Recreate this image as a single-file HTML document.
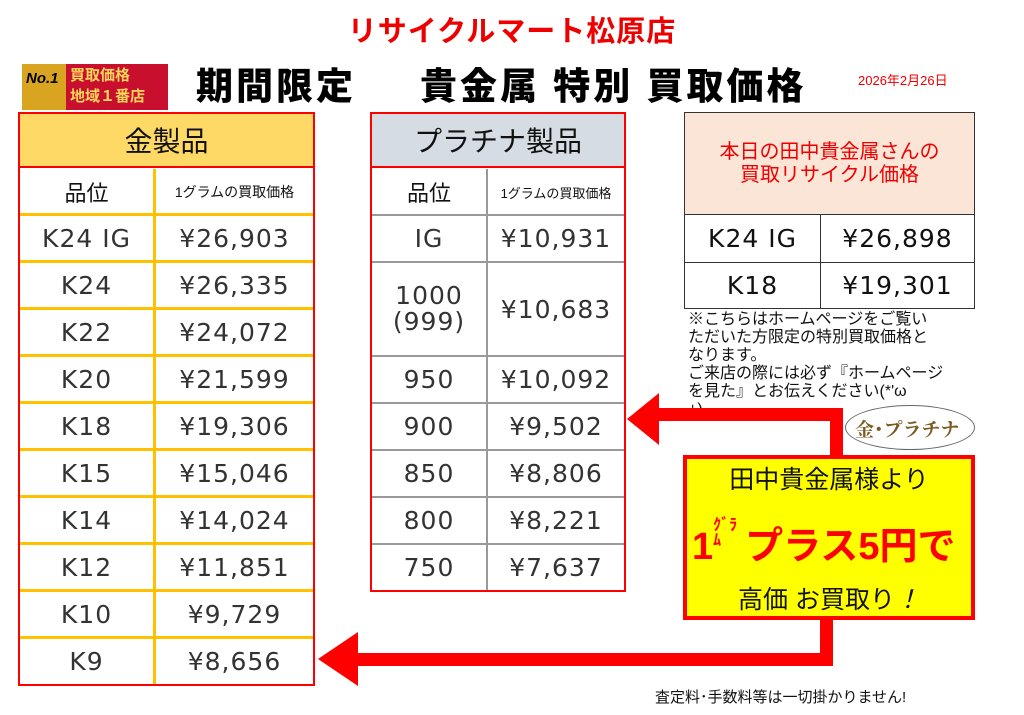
<!DOCTYPE html><html><head><meta charset="utf-8"><style>
body{margin:0;width:1024px;height:715px;background:#fff;position:relative;overflow:hidden;font-family:"Liberation Sans","Noto Sans CJK JP",sans-serif}
.a{position:absolute}
.c{position:absolute;display:flex;align-items:center;justify-content:center;box-sizing:border-box;color:#333}
.v{font-size:25px;color:#333;font-family:"DejaVu Sans","Noto Sans CJK JP",sans-serif;letter-spacing:1px}
</style></head><body>
<div class="a" style="left:0;top:8px;width:1024px;text-align:center;color:#e00;font-size:29px;font-weight:bold;letter-spacing:1px">リサイクルマート松原店</div>
<div class="a" style="left:22px;top:64px;width:146px;height:46px;background:linear-gradient(90deg,#d9a520 0 30%,#c8102e 30%);"></div>
<div class="a" style="left:26px;top:70px;font-size:15px;font-weight:900;font-style:italic;color:#000">No.1</div>
<div class="a" style="left:70px;top:65px;font-size:15px;line-height:21px;font-weight:bold;color:#ffd75a">買取価格<br>地域１番店</div>
<div class="a" style="left:196px;top:56px;font-size:37px;font-weight:900;color:#000;letter-spacing:3px">期間限定</div>
<div class="a" style="left:420px;top:56px;font-size:37px;font-weight:900;color:#000;letter-spacing:3px;white-space:nowrap">貴金属 特別 買取価格</div>
<div class="a" style="left:858px;top:70px;font-size:13px;color:#e00">2026年2月26日</div>

<div class="a" style="left:18px;top:112px;width:297px;height:574px;border:2px solid #f00;box-sizing:border-box"></div>
<div class="c" style="left:20px;top:114px;width:293px;height:54px;background:#ffd966;font-size:28px;color:#111;border-bottom:2px solid #f00">金製品</div>
<div class="a" style="left:153px;top:169px;width:3px;height:515px;background:#ffc000"></div>
<div class="c" style="left:20px;top:169px;width:133px;height:46px;font-size:22px;color:#111">品位</div>
<div class="c" style="left:156px;top:169px;width:157px;height:46px;font-size:14px;color:#111">1グラムの買取価格</div>
<div id="g"></div>

<div class="a" style="left:370px;top:112px;width:256px;height:480px;border:2px solid #f00;box-sizing:border-box"></div>
<div class="c" style="left:372px;top:114px;width:252px;height:54px;background:#d6dce4;font-size:28px;color:#111;border-bottom:2px solid #f00">プラチナ製品</div>
<div class="a" style="left:486px;top:169px;width:2px;height:421px;background:#999"></div>
<div class="c" style="left:372px;top:169px;width:114px;height:46px;font-size:22px;color:#111">品位</div>
<div class="c" style="left:488px;top:169px;width:136px;height:46px;font-size:13px;color:#111">1グラムの買取価格</div>
<div id="p"></div>

<div class="a" style="left:684px;top:112px;width:291px;height:197px;border:1px solid #333;box-sizing:border-box"></div>
<div class="c" style="left:685px;top:113px;width:289px;height:102px;background:#fbe5d6;color:#e00;font-size:20px;line-height:23px;text-align:center;border-bottom:1px solid #333">本日の田中貴金属さんの<br>買取リサイクル価格</div>
<div class="a" style="left:685px;top:262px;width:289px;height:1px;background:#333"></div>
<div class="a" style="left:820px;top:215px;width:1px;height:94px;background:#333"></div>
<div class="c v" style="left:685px;top:215px;width:135px;height:47px;color:#111">K24 IG</div>
<div class="c v" style="left:821px;top:215px;width:153px;height:47px;color:#111">¥26,898</div>
<div class="c v" style="left:685px;top:262px;width:135px;height:47px;color:#111">K18</div>
<div class="c v" style="left:821px;top:262px;width:153px;height:47px;color:#111">¥19,301</div>
<div class="a" style="left:688px;top:311px;width:290px;font-size:16px;line-height:18px;color:#111">※こちらはホームページをご覧い<br>ただいた方限定の特別買取価格と<br>なります。<br>ご来店の際には必ず『ホームページ<br>を見た』とお伝えください(*'ω<br>+)</div>

<div class="a" style="left:655px;top:408px;width:188px;height:13px;background:#f00"></div>
<div class="a" style="left:830px;top:408px;width:13px;height:50px;background:#f00"></div>
<div class="a" style="left:627px;top:393px;width:0;height:0;border-top:26px solid transparent;border-bottom:26px solid transparent;border-right:32px solid #f00"></div>
<div class="a" style="left:820px;top:618px;width:13px;height:48px;background:#f00"></div>
<div class="a" style="left:355px;top:653px;width:478px;height:13px;background:#f00"></div>
<div class="a" style="left:318px;top:632px;width:0;height:0;border-top:27px solid transparent;border-bottom:27px solid transparent;border-right:40px solid #f00"></div>

<div class="a" style="left:683px;top:455px;width:292px;height:165px;background:#ff0;border:4px solid #f00;box-sizing:border-box"></div>
<div class="a" style="left:683px;top:460px;width:292px;text-align:center;font-size:25px;color:#111">田中貴金属様より</div>
<div class="a" style="left:692px;top:518px;font-size:38px;font-weight:bold;color:#f00;white-space:nowrap;line-height:50px">1<span style="font-size:16px;display:inline-block;line-height:15px;vertical-align:14px;margin-right:8px">ｸﾞﾗ<br>ﾑ</span>プラス5円で</div>
<div class="a" style="left:683px;top:580px;width:292px;text-align:center;font-size:25px;color:#111">高価 お買取り<i>！</i></div>
<div class="a" style="left:845px;top:405px;width:130px;height:45px;border:1px solid #666;border-radius:50%;background:#fff;box-sizing:border-box"></div>
<div class="a" style="left:855px;top:415px;font-size:19px;font-family:'Noto Serif CJK SC',serif;font-weight:bold;color:#7a5c20">金･プラチナ</div>
<div class="a" style="left:655px;top:686px;font-size:15px;color:#111">査定料･手数料等は一切掛かりません!</div>

<script>
var g=[["K24 IG","¥26,903"],["K24","¥26,335"],["K22","¥24,072"],["K20","¥21,599"],["K18","¥19,306"],["K15","¥15,046"],["K14","¥14,024"],["K12","¥11,851"],["K10","¥9,729"],["K9","¥8,656"]];
var h="";
for(var i=0;i<g.length;i++){var t=215+i*47;
h+='<div class="a" style="left:20px;top:'+(t-2)+'px;width:293px;height:3px;background:#ffc000"></div>';
h+='<div class="c v" style="left:20px;top:'+t+'px;width:133px;height:47px">'+g[i][0]+'</div><div class="c v" style="left:156px;top:'+t+'px;width:157px;height:47px">'+g[i][1]+'</div>';}
document.getElementById("g").outerHTML=h;
var p=[["IG","¥10,931",47],["1000<br>(999)","¥10,683",94],["950","¥10,092",47],["900","¥9,502",47],["850","¥8,806",47],["800","¥8,221",47],["750","¥7,637",47]];
h="";var t=215;
for(i=0;i<p.length;i++){
h+='<div class="a" style="left:372px;top:'+(t-1)+'px;width:252px;height:2px;background:#999"></div>';
h+='<div class="c v" style="left:372px;top:'+t+'px;width:114px;height:'+p[i][2]+'px;text-align:center;line-height:26px">'+p[i][0]+'</div><div class="c v" style="left:488px;top:'+t+'px;width:136px;height:'+p[i][2]+'px">'+p[i][1]+'</div>';
t+=p[i][2];}
document.getElementById("p").outerHTML=h;
</script>
</body></html>
